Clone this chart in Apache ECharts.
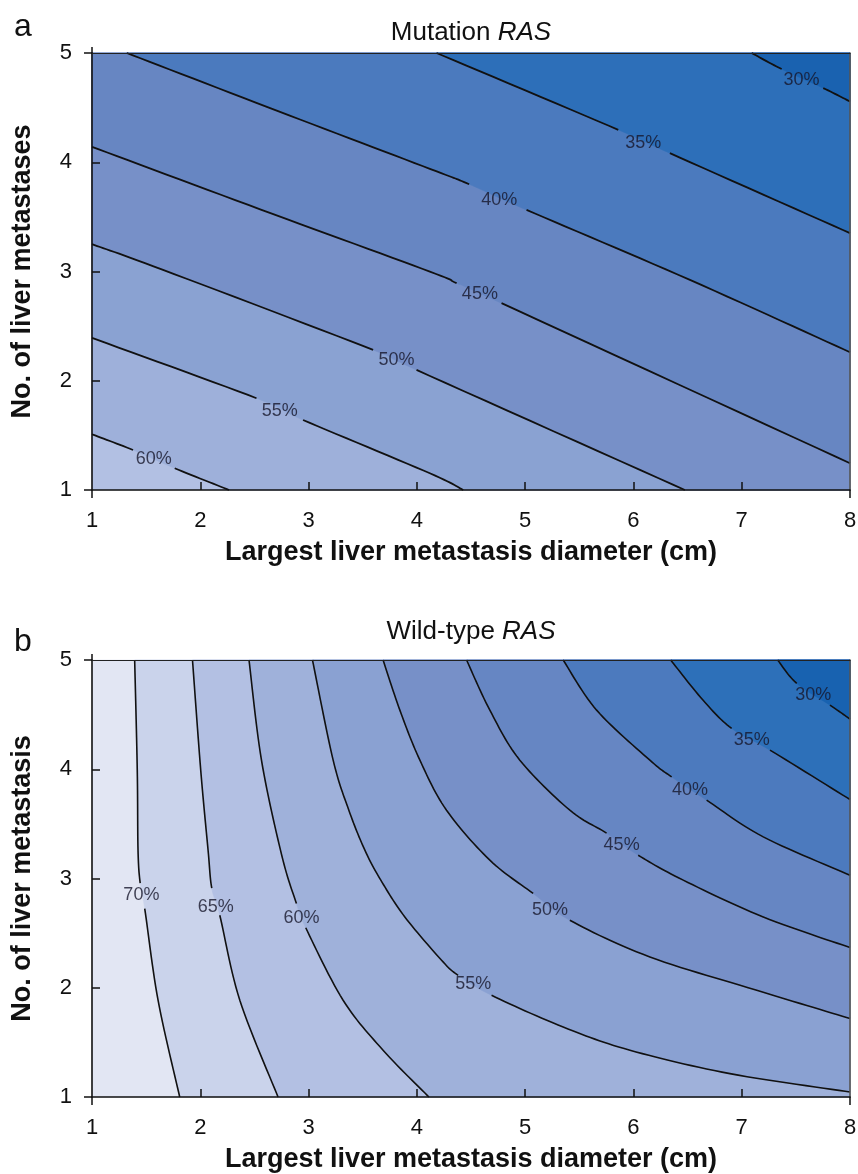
<!DOCTYPE html>
<html><head><meta charset="utf-8">
<script src="https://cdn.jsdelivr.net/npm/echarts@6/dist/echarts.min.js"></script>
<style>html,body{margin:0;padding:0;background:#fff}#c{width:858px;height:1174px}</style>
</head><body><div id="c"></div>
<script>
// ---------- data ----------
const xTicks = [1, 2, 3, 4, 5, 6, 7, 8];
const yTicks = [1, 2, 3, 4, 5];
const xRange = [1, 8];
const yRange = [1, 5];

// Panel a : Mutation RAS  (contour lines, [diameter, number]; null = gap for the label)
const mutLevels = ['60%', '55%', '50%', '45%', '40%', '35%', '30%'];
const mut60 = [[1.0, 1.510], [1.379, 1.366], null, [1.764, 1.199], [2.266, 1.0]];
const mut55 = [[1.0, 2.392], [2.519, 1.840], null, [2.949, 1.641], [4.120, 1.153], [4.428, 1.0]];
const mut50 = [[1.0, 3.250], [1.656, 3.015], [3.596, 2.282], null, [3.997, 2.099], [6.475, 1.0]];
const mut45 = [[1.0, 4.141], [2.559, 3.567], [4.120, 2.999], [4.367, 2.893], null, [4.782, 2.710], [8.0, 1.245]];
const mut40 = [[1.321, 5.0], [2.718, 4.468], [4.120, 3.940], [4.483, 3.799], null, [5.013, 3.564], [6.522, 2.923], [8.0, 2.261]];
const mut35 = [[4.182, 5.0], [5.860, 4.297], null, [6.337, 4.083], [8.0, 3.351]];
const mut30 = [[7.092, 5.0], [7.369, 4.853], null, [7.753, 4.679], [8.0, 4.556]];
const mutLabelPos = [[1.570, 1.281], [2.734, 1.726], [3.812, 2.190], [4.582, 2.795], [4.760, 3.656], [6.091, 4.175], [7.553, 4.755]];
const mutFill = ['#b2c0e3', '#9eb0da', '#8aa2d2', '#7790c8', '#6786c2', '#4b7abe', '#2d6fb9', '#1a62b0'];

// Panel b : Wild-type RAS
const wtLevels = ['70%', '65%', '60%', '55%', '50%', '45%', '40%', '35%', '30%'];
const wt70 = [[1.394, 5.0], [1.418, 3.992], [1.425, 3.259], [1.445, 2.957], null, [1.487, 2.725], [1.610, 1.886], [1.810, 1.0]];
const wt65 = [[1.928, 5.0], [2.004, 3.992], [2.072, 3.259], [2.106, 2.911], null, [2.180, 2.664], [2.365, 1.886], [2.718, 1.0]];
const wt60 = [[2.450, 5.0], [2.565, 4.083], [2.752, 3.213], [2.888, 2.771], null, [2.974, 2.549], [3.319, 1.886], [3.688, 1.428], [4.111, 1.0]];
const wt55 = [[3.036, 5.0], [3.227, 4.083], [3.372, 3.625], [3.520, 3.259], [3.667, 2.985], [3.889, 2.648], [4.228, 2.252], [4.381, 2.114], null,
              [4.690, 1.931], [5.351, 1.641], [5.968, 1.428], [6.891, 1.214], [8.0, 1.046]];
const wt50 = [[3.688, 5.0], [3.843, 4.541], [4.028, 4.083], [4.274, 3.625], [4.674, 3.168], [5.074, 2.863], null,
              [5.413, 2.618], [6.152, 2.282], [7.199, 1.959], [8.0, 1.718]];
const wt45 = [[4.459, 5.0], [4.674, 4.541], [4.951, 4.083], [5.413, 3.625], [5.752, 3.415], null, [6.044, 3.213], [6.460, 2.985], [7.199, 2.648], [8.0, 2.368]];
const wt40 = [[5.351, 5.0], [5.660, 4.541], [6.152, 4.083], [6.353, 3.930], null, [6.676, 3.717], [7.199, 3.381], [8.0, 3.030]];
const wt35 = [[6.344, 5.0], [6.642, 4.633], [6.907, 4.374], null, [7.261, 4.175], [8.0, 3.723]];
const wt30 = [[7.332, 5.0], [7.508, 4.786], null, [7.815, 4.587], [8.0, 4.459]];
const wtLabelPos = [[1.456, 2.848], [2.143, 2.740], [2.935, 2.634], [4.520, 2.032], [5.229, 2.710], [5.891, 3.305], [6.522, 3.809], [7.092, 4.267], [7.661, 4.679]];
const wtFill = ['#e2e6f3', '#cad3eb', '#b3c0e3', '#9fb1da', '#8aa1d2', '#7790c8', '#6686c3', '#4c7abe', '#2d70b9', '#1862b0'];

// ---------- helpers ----------
const FONT = "'Liberation Sans', Arial, Helvetica, sans-serif";
const INK = '#111';

// split a contour into its points and the indices of label gaps
function splitContour(pts) {
  const all = [], gaps = new Set();
  pts.forEach(p => { if (p === null) gaps.add(all.length - 1); else all.push(p); });
  return { all, gaps };
}

// smooth curve (Catmull-Rom) through pixel points, returned per segment
function curveSegments(px) {
  const segs = [], n = 14;
  for (let i = 0; i < px.length - 1; i++) {
    const p0 = px[Math.max(i - 1, 0)], p1 = px[i], p2 = px[i + 1], p3 = px[Math.min(i + 2, px.length - 1)];
    const c1 = [p1[0] + (p2[0] - p0[0]) / 6, p1[1] + (p2[1] - p0[1]) / 6];
    const c2 = [p2[0] - (p3[0] - p1[0]) / 6, p2[1] - (p3[1] - p1[1]) / 6];
    const s = [];
    for (let k = 1; k <= n; k++) {
      const t = k / n, u = 1 - t;
      s.push([
        u * u * u * p1[0] + 3 * u * u * t * c1[0] + 3 * u * t * t * c2[0] + t * t * t * p2[0],
        u * u * u * p1[1] + 3 * u * u * t * c1[1] + 3 * u * t * t * c2[1] + t * t * t * p2[1]
      ]);
    }
    segs.push(s);
  }
  return segs;
}

function cornersFor(all) {
  const first = all[0], last = all[all.length - 1], out = [];
  if (last[1] === yRange[0]) out.push([xRange[1], yRange[0]]);
  out.push([xRange[1], yRange[1]]);
  if (first[0] === xRange[0]) out.push([xRange[0], yRange[1]]);
  return out;
}

function fillSeries(ai, contours, fills) {
  const parts = contours.map(splitContour);
  return {
    type: 'custom', xAxisIndex: ai, yAxisIndex: ai, silent: true, z: 1, animation: false,
    data: fills.map(() => [xRange[0], yRange[0]]),
    renderItem: (params, api) => {
      const i = params.dataIndex;
      let pts;
      if (i === 0) {
        pts = [[xRange[0], yRange[0]], [xRange[1], yRange[0]], [xRange[1], yRange[1]], [xRange[0], yRange[1]]].map(p => api.coord(p));
      } else {
        const c = parts[i - 1];
        const px = c.all.map(p => api.coord(p));
        pts = [px[0]];
        curveSegments(px).forEach(s => pts.push(...s));
        cornersFor(c.all).forEach(p => pts.push(api.coord(p)));
      }
      return { type: 'polygon', shape: { points: pts }, style: { fill: fills[i], stroke: fills[i], lineWidth: 0.6 } };
    }
  };
}

function lineSeries(ai, contours, width) {
  const parts = contours.map(splitContour);
  return {
    type: 'custom', xAxisIndex: ai, yAxisIndex: ai, silent: true, z: 3, animation: false,
    data: parts.map(c => c.all[0]),
    renderItem: (params, api) => {
      const c = parts[params.dataIndex];
      const px = c.all.map(p => api.coord(p));
      const segs = curveSegments(px);
      const lines = []; let cur = [px[0]];
      segs.forEach((s, i) => {
        if (c.gaps.has(i)) { if (cur.length > 1) lines.push(cur); cur = [s[s.length - 1]]; }
        else cur.push(...s);
      });
      if (cur.length > 1) lines.push(cur);
      return {
        type: 'group',
        children: lines.map(l => ({ type: 'polyline', shape: { points: l }, style: { fill: null, stroke: INK, lineWidth: width } }))
      };
    }
  };
}

function labelSeries(ai, pos, levels) {
  return {
    type: 'scatter', xAxisIndex: ai, yAxisIndex: ai, silent: true, animation: false, z: 4,
    symbolSize: 1, itemStyle: { color: 'rgba(0,0,0,0)' },
    data: pos.map((p, i) => ({ value: p, label: { formatter: levels[i] } })),
    label: { show: true, position: 'inside', fontSize: 18, color: '#17172a', fontFamily: FONT }
  };
}

function xAxes(gi) {
  const base = { type: 'value', gridIndex: gi, min: xRange[0], max: xRange[1], interval: 1, splitLine: { show: false }, z: 10 };
  return [
    Object.assign({}, base, {
      position: 'bottom',
      axisLine: { lineStyle: { color: INK, width: 1.6 } },
      axisTick: { inside: true, length: 8, lineStyle: { color: INK, width: 1.5 }, customValues: xTicks.slice(1, -1) },
      axisLabel: { fontSize: 22, color: INK, margin: 20, fontFamily: FONT, customValues: xTicks },
      name: 'Largest liver metastasis diameter (cm)', nameLocation: 'middle', nameGap: 49,
      nameTextStyle: { fontSize: 27, fontWeight: 'bold', color: INK, fontFamily: FONT }
    }),
    Object.assign({}, base, {
      position: 'bottom', axisLine: { show: false },
      axisTick: { inside: false, length: 8, lineStyle: { color: INK, width: 1.5 }, customValues: [xTicks[0], xTicks[xTicks.length - 1]] },
      axisLabel: { show: false }
    }),
    Object.assign({}, base, {
      position: 'top',
      axisLine: { lineStyle: { color: '#222', width: 1.2 } },
      axisTick: { inside: false, length: 6, lineStyle: { color: INK, width: 1.5 }, customValues: [xTicks[0]] },
      axisLabel: { show: false }
    })
  ];
}

function yAxes(gi, title) {
  const base = { type: 'value', gridIndex: gi, min: yRange[0], max: yRange[1], interval: 1, splitLine: { show: false }, z: 10 };
  return [
    Object.assign({}, base, {
      position: 'left',
      axisLine: { lineStyle: { color: INK, width: 1.6 } },
      axisTick: { inside: true, length: 8, lineStyle: { color: INK, width: 1.5 }, customValues: yTicks.slice(1, -1) },
      axisLabel: { fontSize: 22, color: INK, margin: 20, fontFamily: FONT, customValues: yTicks },
      name: title, nameLocation: 'middle', nameGap: 56,
      nameTextStyle: { fontSize: 27, fontWeight: 'bold', color: INK, fontFamily: FONT }
    }),
    Object.assign({}, base, {
      position: 'left', axisLine: { show: false },
      axisTick: { inside: false, length: 8, lineStyle: { color: INK, width: 1.5 }, customValues: [yTicks[0], yTicks[yTicks.length - 1]] },
      axisLabel: { show: false }
    }),
    Object.assign({}, base, {
      position: 'right',
      axisLine: { lineStyle: { color: '#555', width: 1.6 } },
      axisTick: { show: false }, axisLabel: { show: false }
    })
  ];
}

const mutContours = [mut60, mut55, mut50, mut45, mut40, mut35, mut30];
const wtContours = [wt70, wt65, wt60, wt55, wt50, wt45, wt40, wt35, wt30];

const series = [
  fillSeries(0, mutContours, mutFill),
  lineSeries(0, mutContours, 1.8),
  labelSeries(0, mutLabelPos, mutLevels),
  fillSeries(3, wtContours, wtFill),
  lineSeries(3, wtContours, 1.6),
  labelSeries(3, wtLabelPos, wtLevels)
];

const chart = echarts.init(document.getElementById('c'), null, { renderer: 'canvas' });
chart.setOption({
  backgroundColor: '#fff',
  animation: false,
  grid: [
    { left: 92, top: 53, width: 758, height: 437, containLabel: false, outerBoundsMode: 'none' },
    { left: 92, top: 660, width: 758, height: 437, containLabel: false, outerBoundsMode: 'none' }
  ],
  xAxis: xAxes(0).concat(xAxes(1)),
  yAxis: yAxes(0, 'No. of liver metastases').concat(yAxes(1, 'No. of liver metastasis')),
  graphic: [
    { type: 'text', x: 14, y: 27, style: { text: 'a', font: '32px ' + FONT, fill: INK, textVerticalAlign: 'middle' } },
    { type: 'text', x: 14, y: 642, style: { text: 'b', font: '32px ' + FONT, fill: INK, textVerticalAlign: 'middle' } },
    { type: 'text', x: 471, y: 33, style: { text: '{n|Mutation }{i|RAS}', textAlign: 'center', textVerticalAlign: 'middle', fill: INK,
        rich: { n: { fontSize: 26, fontFamily: FONT, color: INK }, i: { fontSize: 26, fontFamily: FONT, fontStyle: 'italic', color: INK } } } },
    { type: 'text', x: 471, y: 632, style: { text: '{n|Wild-type }{i|RAS}', textAlign: 'center', textVerticalAlign: 'middle', fill: INK,
        rich: { n: { fontSize: 26, fontFamily: FONT, color: INK }, i: { fontSize: 26, fontFamily: FONT, fontStyle: 'italic', color: INK } } } }
  ],
  series: series
});
</script></body></html>
